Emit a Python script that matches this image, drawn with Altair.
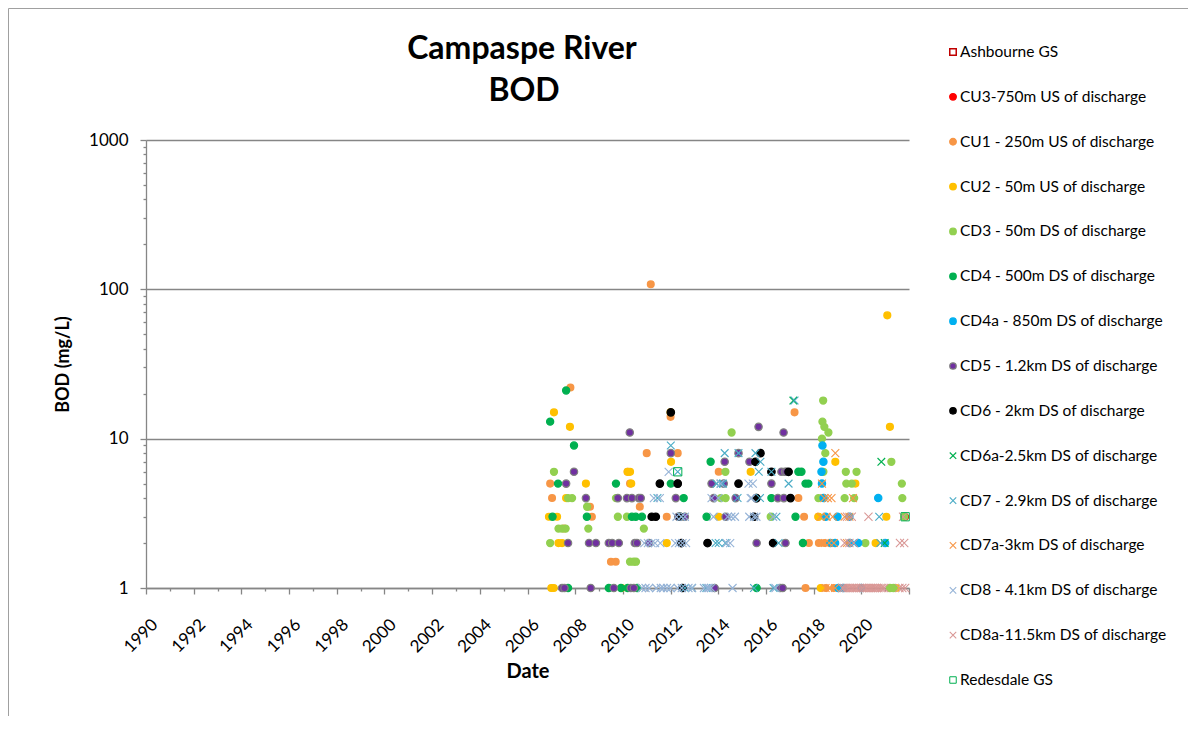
import altair as alt
import pandas as pd

SERIES = [
    "Ashbourne GS",
    "CU3-750m US of discharge",
    "CU1 - 250m US of discharge",
    "CU2 - 50m US of discharge",
    "CD3 - 50m DS of discharge",
    "CD4 - 500m DS of discharge",
    "CD4a - 850m DS of discharge",
    "CD5 - 1.2km DS of discharge",
    "CD6 - 2km DS of discharge",
    "CD6a-2.5km DS of discharge",
    "CD7 - 2.9km DS of discharge",
    "CD7a-3km DS of discharge",
    "CD8 - 4.1km DS of discharge",
    "CD8a-11.5km DS of discharge",
    "Redesdale GS",
]
TITLE_LINES = ["Campaspe River", "BOD"]

# ---- data (decimal year, BOD mg/L) ----
ASH_YEAR = []
ASH_BOD = []

CU3_YEAR = [2021.84]
CU3_BOD = [3]

CU1_YEAR = [2006.95, 2007.03, 2007.53, 2007.80, 2008.62, 2008.70, 2009.50, 2009.70, 2010.20,
            2010.30, 2010.71, 2011.00, 2011.17, 2011.84, 2012.00, 2012.30, 2014.02, 2017.20,
            2017.36, 2017.60, 2017.66, 2017.80, 2018.20, 2018.22, 2018.45, 2018.50, 2018.80, 2018.85]
CU1_BOD = [5, 4, 2.5, 22, 3.5, 3, 1.5, 1.5, 6,
           5, 3.5, 8, 108, 3, 14, 8, 6, 15,
           4, 3, 1, 2, 3, 2, 2, 1, 2, 1]

CU2_YEAR = [2006.90, 2007.00, 2007.10, 2007.11, 2007.24, 2007.30, 2007.45, 2007.62, 2007.78,
            2008.45, 2009.95, 2010.20, 2010.30, 2010.35, 2011.84, 2012.00, 2012.02, 2014.02,
            2015.36, 2018.20, 2018.30, 2018.91, 2019.75, 2020.60, 2021.05, 2021.09, 2021.20,
            2021.30, 2021.45]
CU2_BOD = [3, 1, 1, 15, 3, 2, 2, 4, 12,
           5, 1, 6, 6, 5, 2, 15, 7, 3,
           6, 3, 1, 7, 5, 2, 3, 67, 12,
           1, 1]

CD3_YEAR = [2006.95, 2007.11, 2007.30, 2007.45, 2007.60, 2007.70, 2007.87, 2008.50, 2008.55,
            2009.71, 2009.79, 2010.17, 2010.30, 2010.45, 2010.55, 2010.88, 2012.40, 2014.10,
            2014.30, 2014.31, 2014.56, 2016.20, 2018.20, 2018.35, 2018.37, 2018.40, 2018.41,
            2018.45, 2018.49, 2018.62, 2019.30, 2019.35, 2019.37, 2019.60, 2019.70, 2019.80,
            2020.17, 2021.20, 2021.26, 2021.35, 2021.70, 2021.72, 2021.80]
CD3_BOD = [2, 6, 2.5, 2.5, 2.5, 4, 4, 3.5, 2.5,
           4, 3, 3, 1.5, 1.5, 1.5, 2.5, 3, 4,
           6, 4, 11, 3, 4, 10, 13, 18, 6,
           12, 8, 11, 4, 6, 5, 5, 4, 6,
           2, 1, 7, 1, 5, 4, 3]

CD4_YEAR = [2006.95, 2007.05, 2007.28, 2007.62, 2007.70, 2007.95, 2008.49, 2009.41, 2009.71,
            2009.92, 2010.20, 2010.38, 2010.54, 2010.60, 2010.80, 2012.01, 2012.55, 2013.51,
            2013.68, 2015.61, 2016.23, 2017.24, 2017.36, 2017.49, 2017.55, 2017.66, 2017.78]
CD4_BOD = [13, 3, 5, 21, 1, 9, 3, 1, 5,
           1, 1, 3, 3, 1, 3, 5, 4, 3,
           7, 1, 4, 3, 6, 6, 2, 5, 5]

CD4A_YEAR = [2018.33, 2018.35, 2018.37, 2018.41, 2018.42, 2018.50, 2018.70, 2018.90, 2019.00,
             2019.04, 2019.25, 2019.50, 2019.52, 2019.87, 2020.00, 2020.71, 2021.00]
CD4A_BOD = [6, 5, 9, 7, 4, 3, 2, 2, 3,
            1, 1, 3, 2, 2, 1, 4, 2]

CD5_YEAR = [2007.45, 2007.55, 2007.62, 2007.70, 2007.95, 2008.45, 2008.58, 2008.65, 2008.87,
            2009.41, 2009.55, 2009.62, 2009.79, 2009.83, 2010.17, 2010.29, 2010.33, 2010.38,
            2010.46, 2010.50, 2010.59, 2010.67, 2010.75, 2011.10, 2012.01, 2012.22, 2012.30,
            2012.32, 2012.60, 2013.72, 2013.81, 2013.85, 2014.23, 2014.27, 2014.31, 2014.73,
            2014.85, 2015.31, 2015.60, 2015.61, 2015.69, 2016.23, 2016.50, 2016.60, 2016.65,
            2016.70, 2016.74, 2016.75, 2016.80, 2016.82, 2016.86]
CD5_BOD = [1, 1, 5, 2, 6, 4, 2, 1, 2,
           2, 2, 1, 4, 2, 4, 11, 1, 4,
           1, 2, 2, 4, 4, 2, 8, 4, 5,
           3, 3, 5, 4, 1, 5, 7, 3, 4,
           8, 7, 4, 2, 12, 5, 4, 1, 6,
           1, 11, 4, 6, 2, 6]

CD6_YEAR = [2011.21, 2011.38, 2011.55, 2012.01, 2012.30, 2012.40, 2012.45, 2012.50, 2013.55,
            2014.85, 2015.50, 2015.56, 2015.60, 2015.77, 2016.23, 2016.30, 2016.95, 2017.03]
CD6_BOD = [3, 3, 5, 15, 5, 3, 2, 1, 2,
           5, 3, 7, 4, 8, 6, 2, 6, 4]

CD6A_YEAR = [2017.15, 2020.84, 2020.98]
CD6A_BOD = [18, 7, 2]

CD7_YEAR = [2011.45, 2012.01, 2012.30, 2012.45, 2012.60, 2012.90, 2013.50, 2013.89, 2013.93,
            2014.02, 2014.10, 2014.20, 2014.27, 2014.30, 2014.81, 2014.85, 2015.50, 2015.56,
            2015.70, 2015.75, 2015.77, 2016.23, 2016.32, 2016.44, 2016.53, 2016.95, 2017.20,
            2020.75, 2020.80]
CD7_BOD = [4, 9, 6, 3, 1, 1, 1, 2, 5,
           2, 5, 5, 8, 2, 4, 8, 1, 8,
           6, 4, 7, 6, 1, 3, 2, 5, 18,
           3, 2]

CD7A_YEAR = [2018.30, 2018.35, 2018.45, 2018.47, 2018.50, 2018.55, 2018.60, 2018.65, 2018.70,
             2018.75, 2018.80, 2018.85, 2018.90, 2018.91, 2019.30, 2019.40, 2019.50, 2019.65]
CD7A_BOD = [3, 5, 4, 2, 1, 3, 4, 2, 1,
            4, 3, 2, 1, 8, 3, 2, 3, 4]

CD8_YEAR = [2010.80, 2010.90, 2010.95, 2011.05, 2011.10, 2011.20, 2011.30, 2011.35, 2011.40,
            2011.55, 2011.57, 2011.59, 2011.70, 2011.85, 2011.92, 2012.00, 2012.20, 2012.25,
            2012.30, 2012.35, 2012.45, 2012.47, 2012.50, 2012.60, 2012.65, 2012.75, 2012.90,
            2013.40, 2013.55, 2013.60, 2013.70, 2013.72, 2013.80, 2014.00, 2014.10, 2014.35,
            2014.40, 2014.50, 2014.55, 2014.60, 2014.70, 2015.27, 2015.30, 2015.36, 2015.40,
            2015.45, 2015.50, 2015.60, 2016.30, 2016.40]
CD8_BOD = [1, 2, 1, 2, 1, 2, 4, 2, 1,
           4, 2, 1, 1, 1, 6, 1, 2, 3,
           1, 2, 3, 1, 2, 3, 2, 1, 1,
           1, 1, 1, 1, 4, 3, 4, 5, 2,
           3, 2, 3, 1, 3, 5, 3, 4, 4,
           5, 3, 3, 3, 1]

CD8A_YEAR = [2019.20, 2019.27, 2019.36, 2019.43, 2019.52, 2019.61, 2019.68, 2019.77, 2019.84,
             2019.93, 2020.01, 2020.08, 2020.17, 2020.24, 2020.33, 2020.41, 2020.48, 2020.57,
             2020.64, 2020.72, 2020.81, 2020.88, 2020.96, 2021.60, 2021.72, 2021.84,
             2019.30, 2019.50, 2019.68, 2021.62, 2021.80,
             2019.40, 2019.60, 2020.30, 2021.75]
CD8A_BOD = [1, 1, 1, 1, 1, 1, 1, 1, 1,
            1, 1, 1, 1, 1, 1, 1, 1, 1,
            1, 1, 1, 1, 1, 1, 1, 1,
            2, 2, 2, 2, 2,
            3, 3, 3, 3]

RED_YEAR = [2012.30, 2021.84]
RED_BOD = [6, 3]

DATA = [
    (ASH_YEAR, ASH_BOD), (CU3_YEAR, CU3_BOD), (CU1_YEAR, CU1_BOD), (CU2_YEAR, CU2_BOD),
    (CD3_YEAR, CD3_BOD), (CD4_YEAR, CD4_BOD), (CD4A_YEAR, CD4A_BOD), (CD5_YEAR, CD5_BOD),
    (CD6_YEAR, CD6_BOD), (CD6A_YEAR, CD6A_BOD), (CD7_YEAR, CD7_BOD), (CD7A_YEAR, CD7A_BOD),
    (CD8_YEAR, CD8_BOD), (CD8A_YEAR, CD8A_BOD), (RED_YEAR, RED_BOD),
]

YEAR_TICKS = list(range(1990, 2023))
BOD_TICKS = [1, 2, 3, 4, 5, 6, 7, 8, 9, 10, 20, 30, 40, 50, 60, 70, 80, 90,
             100, 200, 300, 400, 500, 600, 700, 800, 900, 1000]

# ---- styles ----
XPATH = "M-1,-1L1,1M-1,1L1,-1"
FILLS = ["transparent", "#FF0000", "#F79646", "#FFC000", "#92D050", "#00B050", "#00B0F0",
         "#7030A0", "#000000", "transparent", "transparent", "transparent", "transparent",
         "transparent", "transparent"]
STROKES = ["#C00000", "#FF0000", "#F79646", "#FFC000", "#92D050", "#00B050", "#00B0F0",
           "#808080", "#000000", "#00B050", "#4BACC6", "#F79646", "#95B3D7", "#D99694", "#00B050"]
SHAPES = ["square", "circle", "circle", "circle", "circle", "circle", "circle", "circle",
          "circle", XPATH, XPATH, XPATH, XPATH, XPATH, "square"]
SIZES = [40, 68, 68, 68, 68, 68, 68, 46, 32, 56, 56, 56, 56, 56, 40]
WIDTHS = [1.5, 1, 1, 1, 1, 1, 1, 2.5, 1, 2, 2, 2, 2, 2, 1.5]

rows = []
for name, (ys, vs) in zip(SERIES, DATA):
    for y, v in zip(ys, vs):
        rows.append({"series": name, "year": y, "bod": v})
df = pd.DataFrame(rows)
legend_df = pd.DataFrame({"series": SERIES})

FONT = "Lato"
GREY = "#868686"
MAJOR = "datum.value == 1 || datum.value == 10 || datum.value == 100 || datum.value == 1000"

fill_enc = alt.Fill("series:N", scale=alt.Scale(domain=SERIES, range=FILLS), legend=None)
stroke_enc = alt.Stroke("series:N", scale=alt.Scale(domain=SERIES, range=STROKES), legend=None)
shape_enc = alt.Shape("series:N", scale=alt.Scale(domain=SERIES, range=SHAPES), legend=None)
width_enc = alt.StrokeWidth("series:N", scale=alt.Scale(domain=SERIES, range=WIDTHS), legend=None)

points = alt.Chart(df).mark_point(opacity=1).encode(
    x=alt.X("year:Q",
            scale=alt.Scale(domain=[1990, 2022], nice=False, zero=False),
            axis=alt.Axis(values=YEAR_TICKS, format="d",
                          labelExpr="datum.value % 2 == 0 && datum.value <= 2020 ? datum.label : ''",
                          labelAngle=-45, labelFont=FONT, labelFontSize=17, labelColor="#000000",
                          labelPadding=22, labelOffset=3,
                          tickColor=GREY, tickWidth=1.3, domainColor=GREY, domainWidth=1.3,
                          tickSize={"condition": {"test": "datum.value % 2 == 0", "value": 6}, "value": 3},
                          grid=False, title="Date", titleFont=FONT, titleFontSize=20,
                          titleFontWeight="bold", titleColor="#000000", titlePadding=6)),
    y=alt.Y("bod:Q",
            scale=alt.Scale(type="log", domain=[1, 1000], nice=False),
            axis=alt.Axis(values=BOD_TICKS, format="d",
                          labelExpr="(" + MAJOR + ") ? datum.label : ''",
                          labelFont=FONT, labelFontSize=17, labelColor="#000000", labelPadding=12,
                          tickColor=GREY, tickWidth=1.3, domainColor=GREY, domainWidth=1.3,
                          tickSize={"condition": {"test": MAJOR, "value": 6}, "value": 3},
                          grid=True, gridColor=GREY, gridWidth=1.3,
                          gridOpacity={"condition": {"test": MAJOR, "value": 1}, "value": 0},
                          title="BOD (mg/L)", titleFont=FONT, titleFontSize=18,
                          titleFontWeight="bold", titleColor="#000000", titlePadding=16)),
    fill=fill_enc, stroke=stroke_enc, shape=shape_enc, strokeWidth=width_enc,
    size=alt.Size("series:N", scale=alt.Scale(domain=SERIES, range=SIZES), legend=None),
)

# hand-built legend: one row per series, spread along its own point scale
legend_y = alt.Y("series:N", scale=alt.Scale(domain=SERIES, range=[-88, 540], padding=0), axis=None)
legend_symbols = alt.Chart(legend_df).mark_point(opacity=1, size=42).encode(
    x=alt.value(807), y=legend_y,
    fill=fill_enc, stroke=stroke_enc, shape=shape_enc,
    strokeWidth=alt.StrokeWidth("series:N", scale=alt.Scale(domain=SERIES, range=WIDTHS), legend=None),
)
legend_labels = alt.Chart(legend_df).mark_text(
    font=FONT, fontSize=15.5, color="#000000", align="left", baseline="middle"
).encode(x=alt.value(814), y=legend_y, text="series:N")

title_df = pd.DataFrame({"line": TITLE_LINES, "row": [0, 1]})
title1 = alt.Chart(title_df).transform_filter("datum.row == 0").mark_text(
    font=FONT, fontSize=32, fontWeight="bold", color="#000000", align="center", baseline="middle"
).encode(x=alt.value(376), y=alt.value(-91), text="line:N")
title2 = alt.Chart(title_df).transform_filter("datum.row == 1").mark_text(
    font=FONT, fontSize=32, fontWeight="bold", color="#000000", align="center", baseline="middle"
).encode(x=alt.value(378), y=alt.value(-49), text="line:N")

frame = alt.Data(values=[{"k": 0}])
border_left = alt.Chart(frame).mark_rule(color="#a0a0a0", strokeWidth=1).encode(
    x=alt.value(-137.5), y=alt.value(-131.5), y2=alt.value(580))
border_top = alt.Chart(frame).mark_rule(color="#a0a0a0", strokeWidth=1).encode(
    x=alt.value(-137.5), x2=alt.value(1042), y=alt.value(-131.5))

chart = alt.layer(
    border_left, border_top, title1, title2, points, legend_symbols, legend_labels
).resolve_scale(y="independent").properties(
    width=763, height=448,
    padding={"left": 138, "top": 132, "right": 280, "bottom": 128},
    autosize=alt.AutoSizeParams(type="none"),
    background="#ffffff",
).configure_view(strokeWidth=0)

chart.save("out.html", embed_options={"renderer": "svg", "actions": False})
